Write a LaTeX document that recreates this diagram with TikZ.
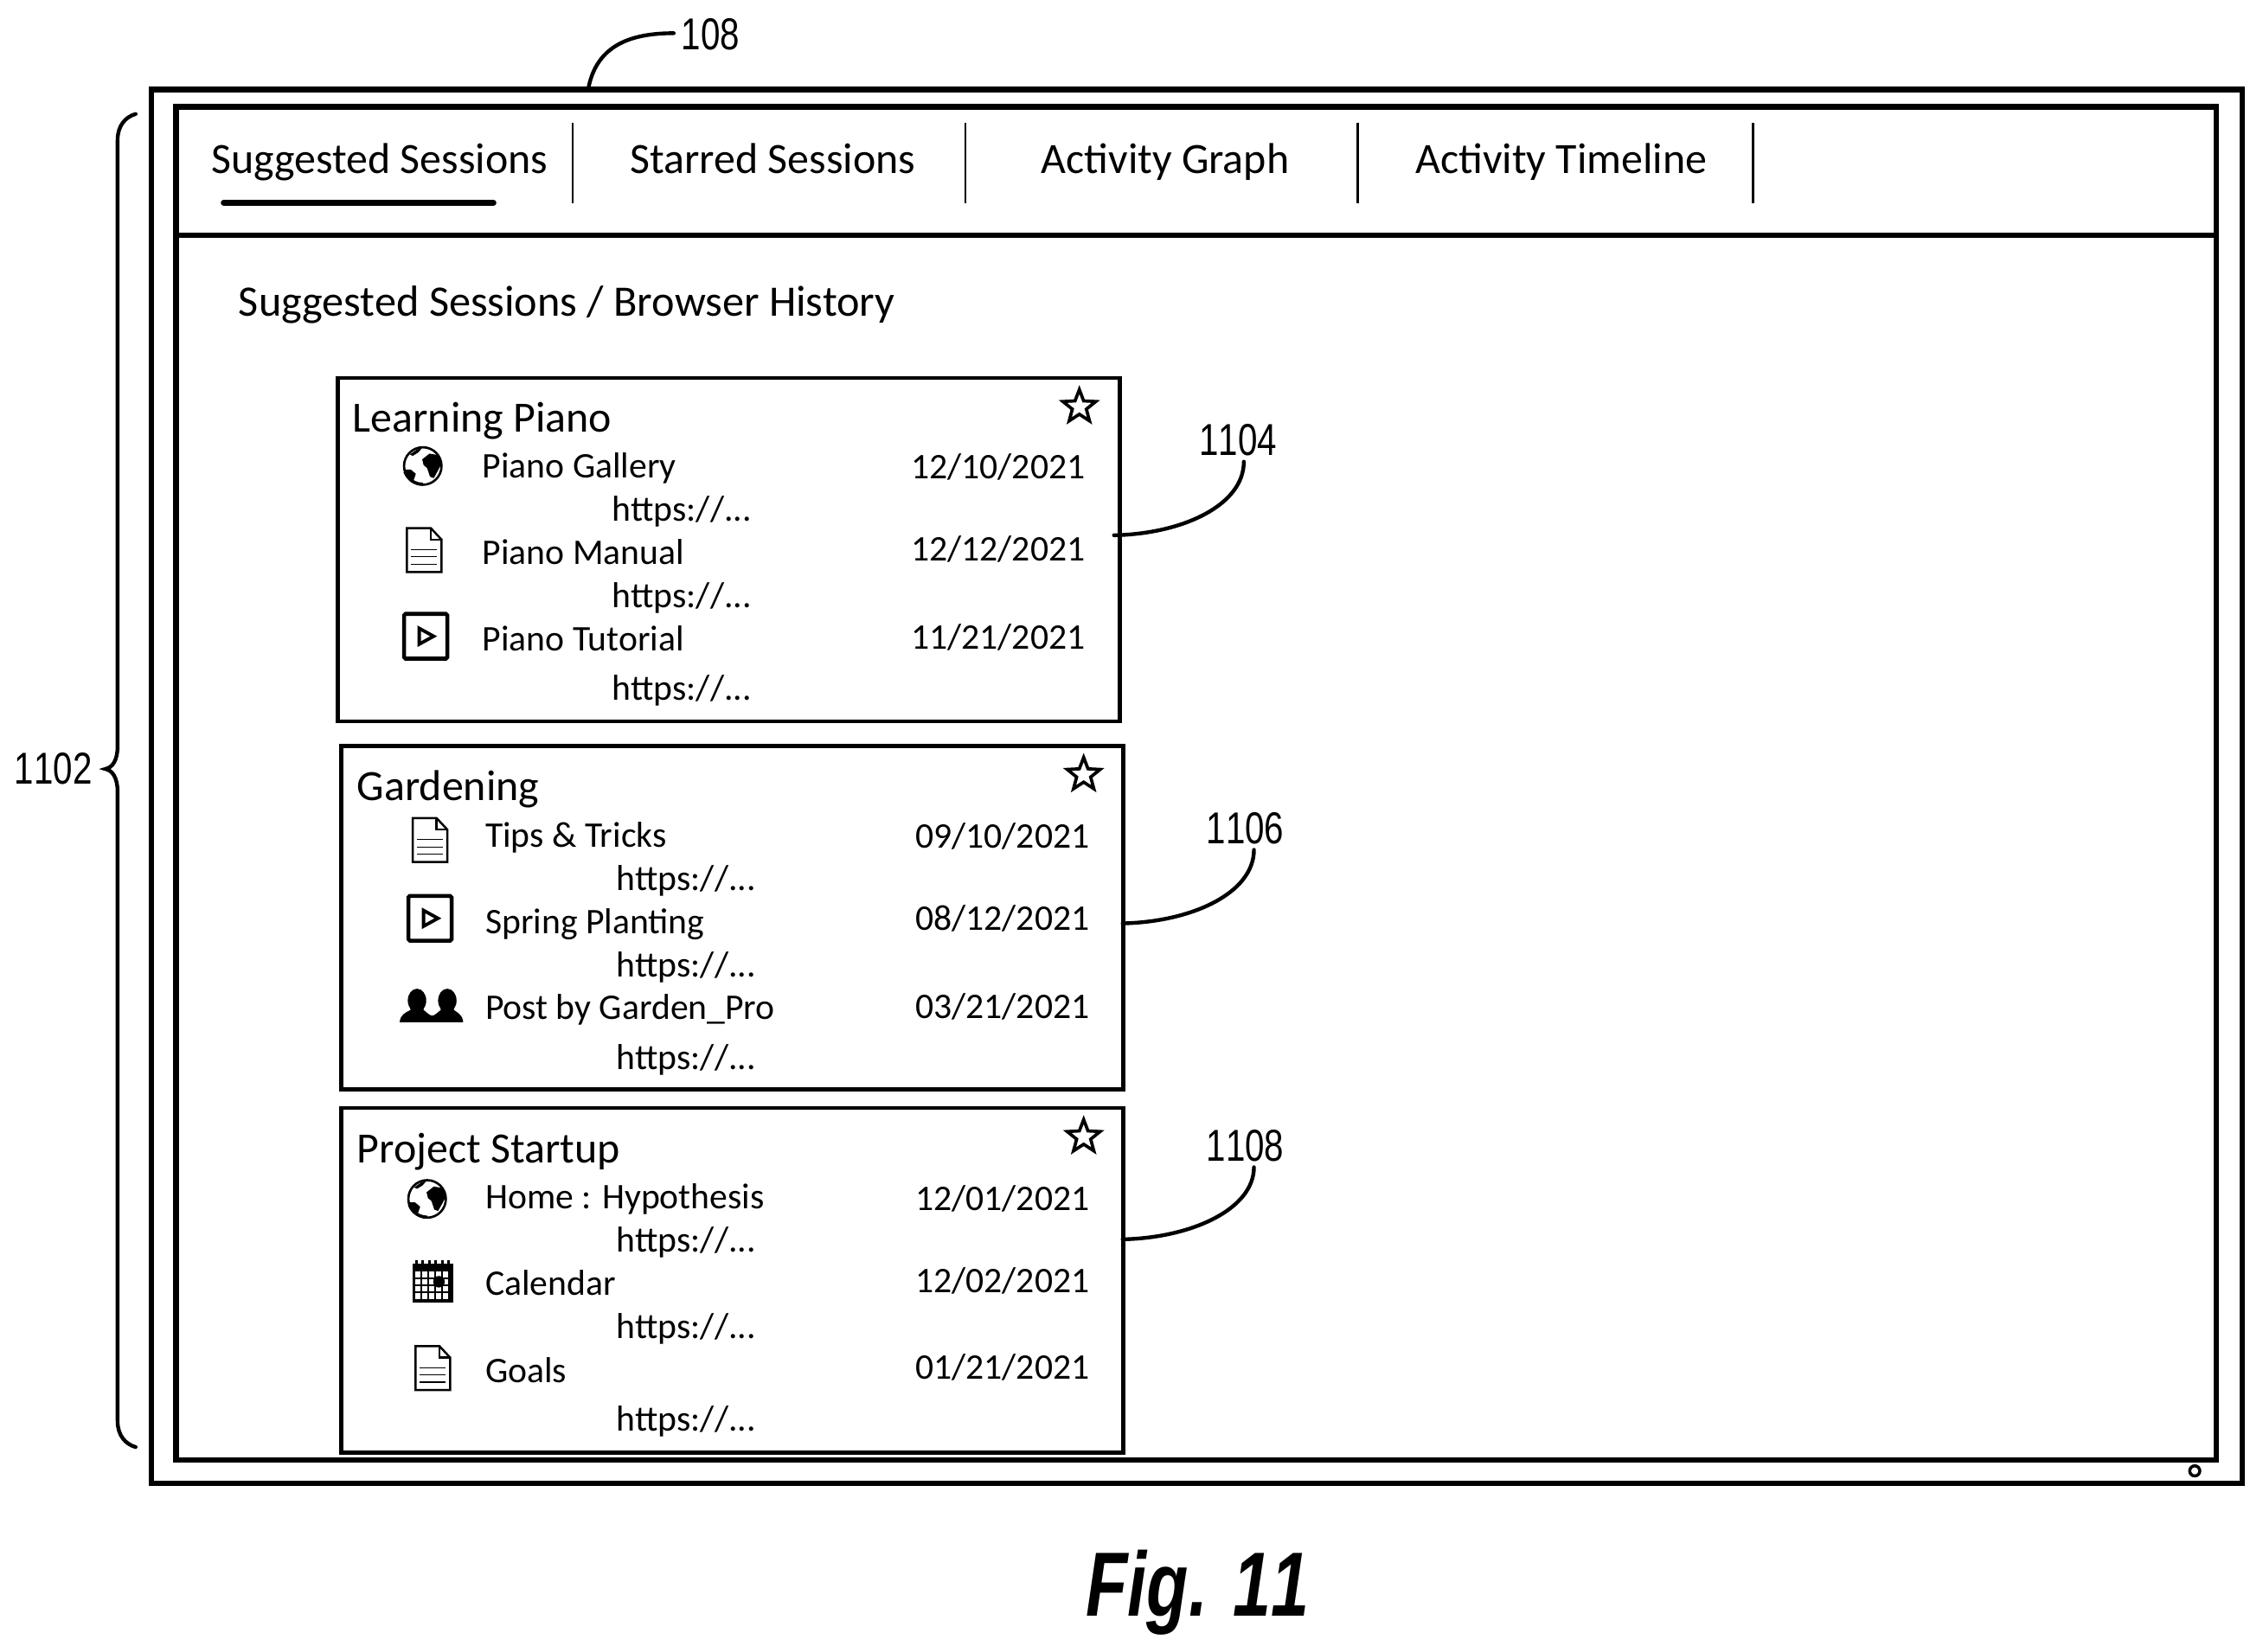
\documentclass[tikz,border=0pt]{standalone}
\usepackage{fontspec}
\setmainfont{Carlito}
\newfontfamily\labelfont[Kerning=Off]{Liberation Sans}
\usetikzlibrary{shapes.geometric}
\newcommand{\pxu}{0.01668cm}
\newcommand{\narrowlabel}[2]{\scalebox{#1}[1]{#2}}
\tikzset{
  thickrect/.style={draw, line width=1.85pt, inner sep=0pt, outer sep=0pt},
  cardbox/.style={draw, line width=1.3pt, inner sep=0pt, outer sep=0pt, minimum width=542*\pxu, minimum height=238*\pxu},
  tabtext/.style={anchor=base, inner sep=0pt, font=\fontsize{14.2}{17}\selectfont},
  headtext/.style={anchor=base west, inner sep=0pt, font=\fontsize{14.3}{17}\selectfont},
  cardtitle/.style={anchor=base west, inner sep=0pt, font=\fontsize{14.2}{18}\selectfont},
  rowtext/.style={anchor=base west, inner sep=0pt, font=\fontsize{11.85}{14}\selectfont},
  reflabel/.style={inner sep=0pt, font=\labelfont\fontsize{14.7}{17}\selectfont},
  leader/.style={line width=1.25pt, line cap=round},
  starmark/.style={draw, star, star points=5, star point ratio=2.35, line width=1.05pt, inner sep=0pt, minimum size=24*\pxu},
  globeicon/.pic={
    \draw[line width=0.75pt] (0,0) circle (13);
    \fill (-.4,-4.6)--(4.6,-8.6)--(10.6,-7.6)--(13,-1.6)--(10.6,3)--(7.6,8.4)--(5,7.4)--(3,1.4)--(.6,-.6)--cycle;
    \fill (-12.4,2.4)--(-8.4,2.4)--(-4.8,5.4)--(-6.4,10)--(-8.4,10)--(-11.4,6.4)--cycle;
    \fill (-9,-8)--(-4,-11.5)--(-.5,-12.5)--(-3,-9.5)--(-7,-7)--cycle;
    \draw[line width=1pt] (-12.4,4) .. controls (-10,10) and (-5,12.5) .. (0,12.6);
  },
  docicon/.pic={
    \draw[line width=0.7pt, line join=miter] (-12,-15)--(4.5,-15)--(12,-7)--(12,15.5)--(-12,15.5)--cycle;
    \draw[line width=0.7pt] (4.5,-15)--(4.5,-7)--(12,-7);
    \draw[line width=0.35pt] (-9,0)--(9,0);
    \draw[line width=0.35pt] (-9,5)--(9,5);
    \draw[line width=0.35pt] (-9,10)--(9,10);
  },
  playicon/.pic={
    \draw[line width=1.3pt, rounded corners=0.5pt] (-15,-15.5) rectangle (15,15.5);
    \draw[line width=1.1pt, line join=miter] (-4.5,-5.5)--(5.5,0)--(-4.5,5.5)--cycle;
  },
  peopleicon/.pic={
    \fill (-10,-3.5) ellipse (6.4 and 8.2);
    \fill (11,-3.5) ellipse (6.4 and 8.2);
    \fill (-22,11.5) .. controls (-21.5,6) and (-18,5) .. (-14.5,3) -- (-15,-3) -- (-5,-3) -- (-5.5,3) .. controls (-3,5) and (-1,7) .. (0.5,7) .. controls (2,7) and (4,5) .. (6.5,3) -- (6,-3) -- (16,-3) -- (15.5,3) .. controls (18,5) and (21.5,6) .. (22,11.5) -- cycle;
  },
  calicon/.pic={
    \fill (-14,-11) rectangle (14,16);
    \foreach \gx in {-12,-7.2,-2.4,2.4,7.2} {
      \foreach \gy in {-5.5,-.5,4.5,9.5} {
        \fill[white] (\gx,\gy) rectangle ++(3.6,3.8);
      }
    }
    \fill (4.2,1.4) circle (4);
    \foreach \gx in {-11.5,-7,-2.5,2,6.5,11} {
      \fill (\gx-1,-13.5) rectangle ++(2,3);
    }
  },
}
\begin{document}
\begin{tikzpicture}[x=\pxu, y=-\pxu]
\useasboundingbox (0,0) rectangle (1568.3,1144.5);
\node (device) at (829.5,545) [thickrect, minimum width=1449*\pxu, minimum height=966*\pxu] {};
\node (window) at (829,543) [thickrect, minimum width=1414*\pxu, minimum height=938*\pxu] {};
\coordinate (tabL) at (122,163);
\coordinate (tabR) at (1536,163);
\draw[line width=1.5pt] (tabL)--(tabR);
\node (tab1) at (263,120) [tabtext] {Suggested Sessions};
\node (tab2) at (535.5,120) [tabtext] {Starred Sessions};
\node (tab3) at (807.5,120) [tabtext] {Activity Graph};
\node (tab4) at (1082,120) [tabtext] {Activity Timeline};
\draw[line width=0.7pt] (397,85)--(397,141);
\draw[line width=0.7pt] (669,85)--(669,141);
\draw[line width=0.7pt] (941,85)--(941,141);
\draw[line width=0.7pt] (1215,85)--(1215,141);
\draw[line width=1.9pt, line cap=round] (155,140.5)--(342,140.5);
\node (head) at (165,219) [headtext] {Suggested Sessions / Browser History};

\node (card1) at (505,381) [cardbox] {};
\node (title1) at (244,299.5) [cardtitle] {Learning Piano};
\node (star1) at (748,282) [starmark] {};
\pic at (293,323) {globeicon};
\pic at (294,381) {docicon};
\pic at (295,441) {playicon};
\node (row11) at (334,331) [rowtext] {Piano Gallery};
\node (date11) at (631,332) [rowtext] {12/10/2021};
\node (url11) at (424,361) [rowtext] {https://...};
\node (row12) at (334,391) [rowtext] {Piano Manual};
\node (date12) at (631,389) [rowtext] {12/12/2021};
\node (url12) at (424,421) [rowtext] {https://...};
\node (row13) at (334,451) [rowtext] {Piano Tutorial};
\node (date13) at (631,450) [rowtext] {11/21/2021};
\node (url13) at (424,485) [rowtext] {https://...};

\node (card2) at (507.5,636) [cardbox] {};
\node (title2) at (247,555) [cardtitle] {Gardening};
\node (star2) at (751,537) [starmark] {};
\pic at (298,582) {docicon};
\pic at (298,636.5) {playicon};
\pic at (299,697) {peopleicon};
\node (row21) at (336,587) [rowtext] {Tips \& Tricks};
\node (date21) at (634,588) [rowtext] {09/10/2021};
\node (url21) at (427,617) [rowtext] {https://...};
\node (row22) at (336,647) [rowtext] {Spring Planting};
\node (date22) at (634,645) [rowtext] {08/12/2021};
\node (url22) at (427,677) [rowtext] {https://...};
\node (row23) at (336,706.5) [rowtext] {Post by Garden\_Pro};
\node (date23) at (634,706) [rowtext] {03/21/2021};
\node (url23) at (427,741.5) [rowtext] {https://...};

\node (card3) at (507.5,887.5) [cardbox, minimum height=239*\pxu] {};
\node (title3) at (247,806) [cardtitle] {Project Startup};
\node (star3) at (751,788) [starmark] {};
\pic at (296,831) {globeicon};
\pic at (300,887) {calicon};
\pic at (300,948) {docicon};
\node (row31) at (336,838) [rowtext] {Home : Hypothesis};
\node (date31) at (634,839) [rowtext] {12/01/2021};
\node (url31) at (427,868) [rowtext] {https://...};
\node (row32) at (336,898) [rowtext] {Calendar};
\node (date32) at (634,896) [rowtext] {12/02/2021};
\node (url32) at (427,928) [rowtext] {https://...};
\node (row33) at (336,958) [rowtext] {Goals};
\node (date33) at (634,956) [rowtext] {01/21/2021};
\node (url33) at (427,992) [rowtext] {https://...};

\node (knob) at (1521,1019.5) [circle, draw, line width=1pt, inner sep=0pt, minimum size=7*\pxu] {};

\node (l108) at (492.5,24) [reflabel] {\narrowlabel{.78}{108}};
\coordinate (a108) at (408,60);
\draw[leader] (l108.west)++(-5,-1) .. controls (436,23) and (414,32) .. (a108);
\node (l1104) at (858,305) [reflabel] {\narrowlabel{.78}{1104}};
\coordinate (a1104) at (772,371);
\coordinate (b1104) at (862,320);
\draw[leader] (b1104) .. controls (862,350) and (820,370) .. (a1104);
\node (l1106) at (863,574) [reflabel] {\narrowlabel{.78}{1106}};
\coordinate (a1106) at (778,640);
\coordinate (b1106) at (869,589);
\draw[leader] (b1106) .. controls (869,619) and (826,639) .. (a1106);
\node (l1108) at (863,794) [reflabel] {\narrowlabel{.78}{1108}};
\coordinate (a1108) at (778,859);
\coordinate (b1108) at (869,809);
\draw[leader] (b1108) .. controls (869,838) and (826,858) .. (a1108);

\node (l1102) at (37,533) [reflabel] {\narrowlabel{.78}{1102}};
\coordinate (braceT) at (94,79);
\coordinate (braceB) at (94,1003);
\coordinate (braceM) at (73,533);
\draw[leader] (braceT) .. controls (87,81) and (81.5,87) .. (81.5,97) -- (81.5,517) .. controls (81.5,527) and (78,532) .. (braceM) .. controls (78,534) and (81.5,539) .. (81.5,549) -- (81.5,985) .. controls (81.5,995) and (87,1001) .. (braceB);

\node (figcap) at (830,1104) [inner sep=0pt, font=\labelfont\bfseries\itshape\fontsize{30}{34}\selectfont] {\narrowlabel{.75}{Fig. 11}};
\end{tikzpicture}
\end{document}
